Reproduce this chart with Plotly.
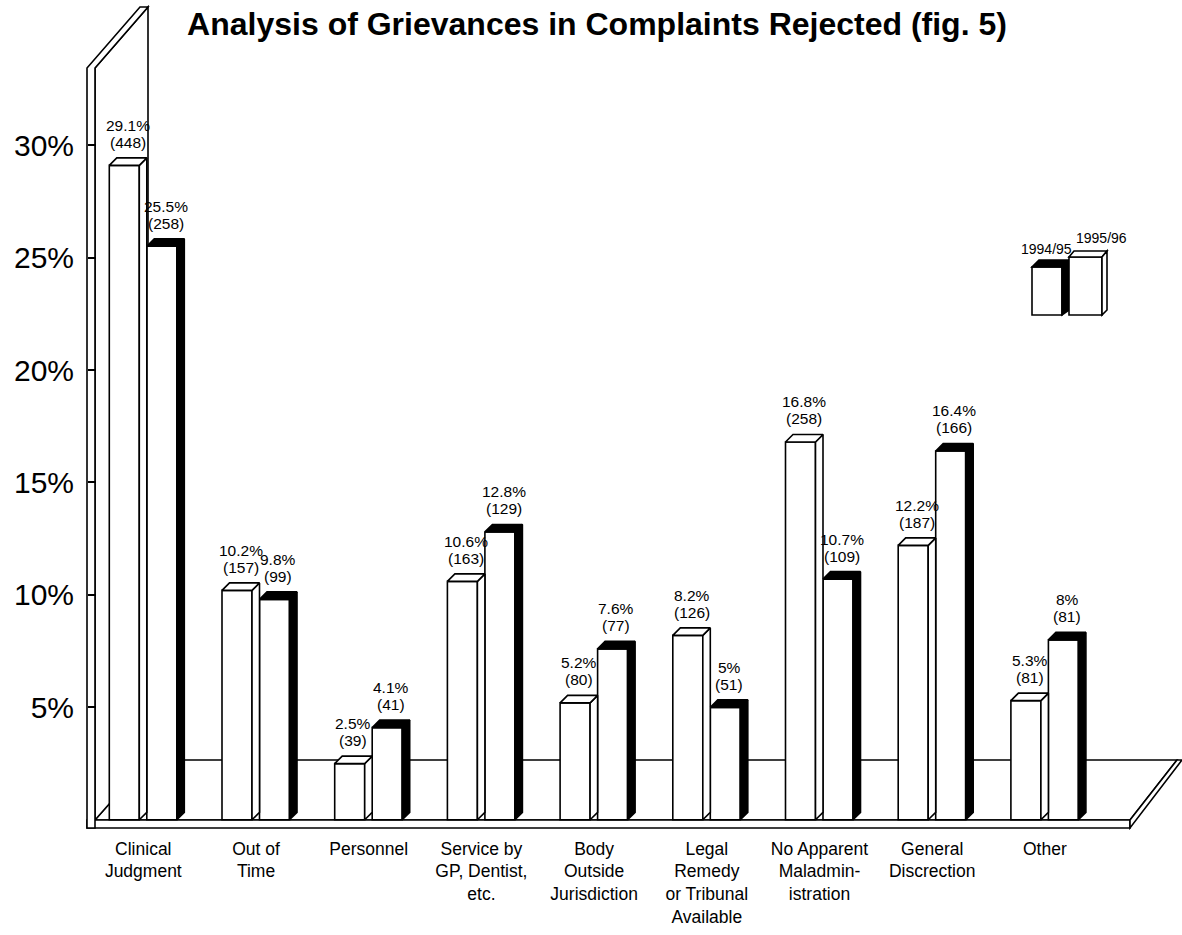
import plotly.graph_objects as go

# ---- data -------------------------------------------------------------
categories = [
    "Clinical<br>Judgment",
    "Out of<br>Time",
    "Personnel",
    "Service by<br>GP, Dentist,<br>etc.",
    "Body<br>Outside<br>Jurisdiction",
    "Legal<br>Remedy<br>or Tribunal<br>Available",
    "No Apparent<br>Maladmin-<br>istration",
    "General<br>Discrection",
    "Other",
]
# white-topped bars (1995/96)
pct_9596 = [29.1, 10.2, 2.5, 10.6, 5.2, 8.2, 16.8, 12.2, 5.3]
count_9596 = [448, 157, 39, 163, 80, 126, 258, 187, 81]
# black-topped bars (1994/95)
pct_9495 = [25.5, 9.8, 4.1, 12.8, 7.6, 5, 10.7, 16.4, 8]
count_9495 = [258, 99, 41, 129, 77, 51, 109, 166, 81]

y_ticks = [5, 10, 15, 20, 25, 30]
title_text = "Analysis of Grievances in Complaints Rejected (fig. 5)"

# ---- page / axis scale ------------------------------------------------
W, H = 1182, 935
PX_PER_CAT = 112.7      # pixels between category centres
CAT0_PX = 143.3         # pixel column of the first category
PX_PER_PCT = 22.49      # pixels per percentage point
ZERO_PX = 819.8         # pixel row of 0 %


def xd(p):
    """pixel column -> x data value"""
    return (p - CAT0_PX) / PX_PER_CAT


def yd(p):
    """pixel row -> y data value"""
    return (ZERO_PX - p) / PX_PER_PCT


BAR_W = 30 / PX_PER_CAT
DEPTH_X = 7.5 / PX_PER_CAT
DEPTH_Y = 7.5 / PX_PER_PCT
OFFSET_WHITE = -34 / PX_PER_CAT
OFFSET_BLACK = 3.5 / PX_PER_CAT

FONT = "Liberation Sans, Arial, Helvetica, sans-serif"
LW = 1.6


def faces(offset, values):
    """top and side faces of the 3-D bars, as polygons separated by None"""
    tx, ty, sx, sy = [], [], [], []
    for i, v in enumerate(values):
        x0 = i + offset
        x1 = x0 + BAR_W
        tx += [x0, x1, x1 + DEPTH_X, x0 + DEPTH_X, x0, None]
        ty += [v, v, v + DEPTH_Y, v + DEPTH_Y, v, None]
        sx += [x1, x1, x1 + DEPTH_X, x1 + DEPTH_X, x1, None]
        sy += [0, v, v + DEPTH_Y, DEPTH_Y, 0, None]
    return tx, ty, sx, sy


fig = go.Figure()

idx = list(range(len(categories)))
for name, vals, off, face_col in [
    ("1995/96", pct_9596, OFFSET_WHITE, "white"),
    ("1994/95", pct_9495, OFFSET_BLACK, "black"),
]:
    fig.add_trace(go.Bar(
        x=idx, y=vals, base=0, width=BAR_W, offset=off, name=name,
        marker=dict(color="white", line=dict(color="black", width=LW)),
        hoverinfo="skip",
    ))
    tx, ty, sx, sy = faces(off, vals)
    for fx, fy in [(sx, sy), (tx, ty)]:
        fig.add_trace(go.Scatter(
            x=fx, y=fy, mode="lines", fill="toself", fillcolor=face_col,
            line=dict(color="black", width=LW), hoverinfo="skip",
            showlegend=False,
        ))

# value labels above each bar
annotations = []
for off, vals, counts in [(OFFSET_WHITE, pct_9596, count_9596),
                          (OFFSET_BLACK, pct_9495, count_9495)]:
    for i, (v, n) in enumerate(zip(vals, counts)):
        xc = i + off + (BAR_W + DEPTH_X) / 2
        for txt, shift in [(f"{v:g}%", 40), (f"({n})", 23)]:
            annotations.append(dict(
                x=xc, y=v, xref="x", yref="y", text=txt, showarrow=False,
                xanchor="center", yanchor="middle", yshift=shift,
                font=dict(family=FONT, size=15.5, color="black"),
            ))

# legend texts
for txt, px, py in [("1994/95", 1046.7, 248.8), ("1995/96", 1101.7, 237.5)]:
    annotations.append(dict(
        x=xd(px), y=yd(py), xref="x", yref="y", text=txt, showarrow=False,
        xanchor="center", yanchor="middle",
        font=dict(family=FONT, size=14, color="black"),
    ))


def poly(points, fill, layer="below"):
    path = "M " + " L ".join(f"{xd(a):.5f},{yd(b):.5f}" for a, b in points) + " Z"
    return dict(type="path", path=path, xref="x", yref="y", layer=layer,
                fillcolor=fill, line=dict(color="black", width=LW))


shapes = [
    # floor slab
    poly([(95, 820), (148, 760), (1177, 760), (1130, 820)], "white"),
    poly([(87, 820), (1130, 820), (1130, 828), (87, 828)], "white"),
    poly([(1130, 820), (1177, 760), (1182, 760), (1130, 828)], "white"),
    # left wall
    poly([(95, 820), (95, 68), (148, 7), (148, 760)], "white"),
    poly([(87, 828), (87, 68), (140, 7), (148, 7), (95, 68), (95, 828)], "white"),
    # legend boxes
    poly([(1032, 267), (1062, 267), (1062, 315), (1032, 315)], "white", "above"),
    poly([(1032, 267), (1062, 267), (1069, 260), (1039, 260)], "black", "above"),
    poly([(1062, 267), (1069, 260), (1069, 310), (1062, 315)], "black", "above"),
    poly([(1069, 257), (1102, 257), (1102, 315), (1069, 315)], "white", "above"),
    poly([(1069, 257), (1102, 257), (1107, 251), (1074, 251)], "white", "above"),
    poly([(1102, 257), (1107, 251), (1107, 310), (1102, 315)], "white", "above"),
]

fig.update_layout(
    width=W, height=H,
    margin=dict(l=0, r=0, t=0, b=0),
    paper_bgcolor="white", plot_bgcolor="white",
    barmode="overlay", showlegend=False,
    title=dict(text=f"<b>{title_text}</b>", x=597 / W, xanchor="center",
               y=1 - 24 / H, yanchor="middle", yref="container",
               font=dict(family=FONT, size=32, color="black")),
    xaxis=dict(range=[xd(0), xd(W)], tickvals=idx, ticktext=categories,
               anchor="free", position=(H - 828) / H,
               showgrid=False, zeroline=False, showline=False, ticks="",
               ticklabelstandoff=8,
               tickfont=dict(family=FONT, size=17.5, color="black")),
    yaxis=dict(range=[yd(H), yd(0)], tickvals=y_ticks,
               ticktext=[f"{t}%" for t in y_ticks],
               anchor="free", position=87 / W,
               showgrid=False, zeroline=False, showline=False,
               ticks="inside", ticklen=8, tickwidth=2, tickcolor="black",
               ticklabelstandoff=13,
               tickfont=dict(family=FONT, size=30, color="black")),
    annotations=annotations,
    shapes=shapes,
)

fig.write_html("out.html")
